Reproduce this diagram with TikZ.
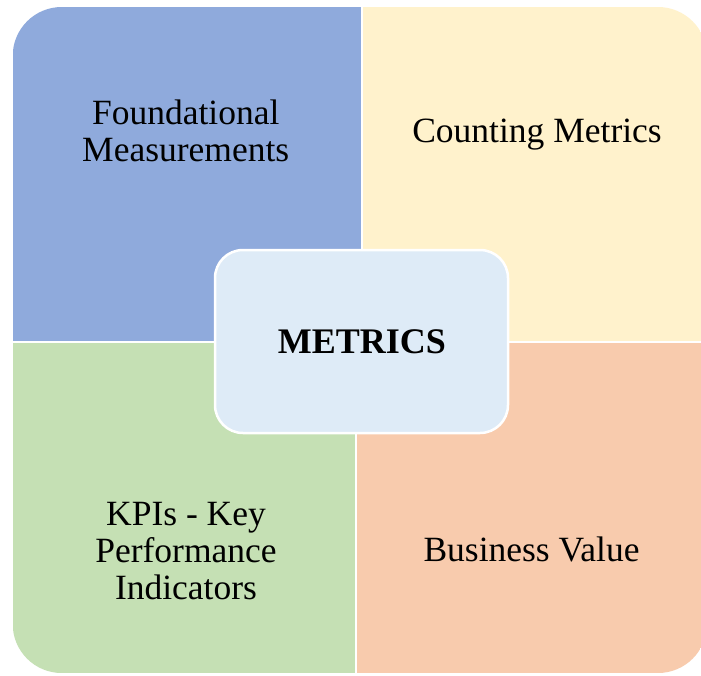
\documentclass[tikz,border=0pt]{standalone}
\usepackage{fontspec}
\setmainfont{Liberation Serif}
\definecolor{qblue}{RGB}{143,170,220}
\definecolor{qcream}{RGB}{255,242,204}
\definecolor{qgreen}{RGB}{197,224,180}
\definecolor{qpeach}{RGB}{248,203,173}
\definecolor{qcenter}{RGB}{222,235,247}
\tikzset{
  lbl/.style={inner sep=0pt, align=center, font=\fontsize{35.5}{37}\selectfont, text=black},
  hub/.style={draw=white, line width=2.5pt, fill=qcenter, rounded corners=28pt,
    minimum width=293pt, minimum height=183pt, inner sep=0pt}
}
\begin{document}
\begin{tikzpicture}[x=1pt,y=-1pt]
\useasboundingbox (0,0) rectangle (701,675);
\clip (0,0) rectangle (701,675);
\fill[white] (0,0) rectangle (701,675);
\begin{scope}
  \clip[rounded corners=49pt] (12.7,7) rectangle (707,673);
  \fill[qblue]  (12.7,7)  rectangle (360.5,341);
  \fill[qcream] (363,7)   rectangle (707,341);
  \fill[qgreen] (12.7,343) rectangle (355,673);
  \fill[qpeach] (357,343) rectangle (707,673);
\end{scope}
\node[hub] (metrics) at (361.5,341.5) {};
\node[font=\fontsize{36}{40}\selectfont\bfseries, inner sep=0pt, anchor=base] (mtxt) at (362,353) {METRICS};
\node[lbl, anchor=base] (found) at (185.7,161.5) {Foundational\\Measurements};
\node[lbl, anchor=base] (count) at (537,142.5) {Counting Metrics};
\node[lbl, anchor=base] (kpi) at (186,599.5) {KPIs - Key\\Performance\\Indicators};
\node[lbl, anchor=base] (biz) at (531.5,561.5) {Business Value};
\end{tikzpicture}
\end{document}
